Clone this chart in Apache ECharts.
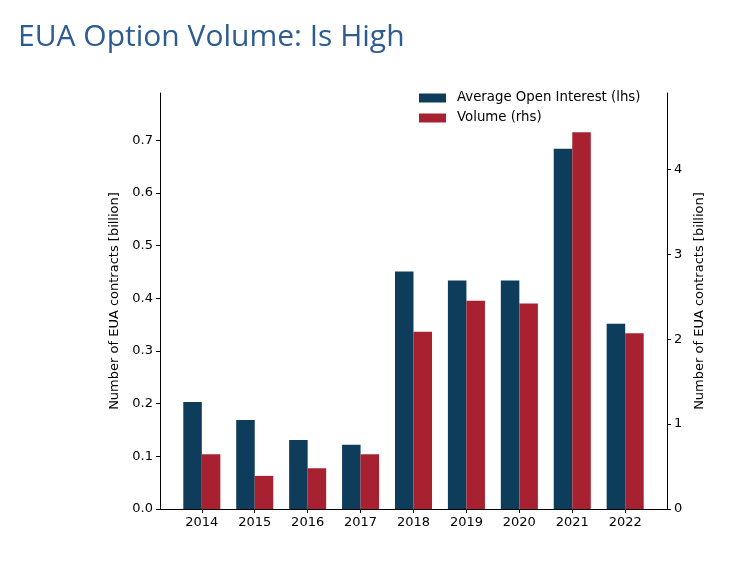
<!DOCTYPE html>
<html>
<head>
<meta charset="utf-8">
<script src="https://cdn.jsdelivr.net/npm/echarts@6/dist/echarts.min.js"></script>
<style>
html,body{margin:0;padding:0;background:#fff;}
#main{width:751px;height:565px;}
</style>
</head>
<body>
<div id="main"></div>
<script>
const years = ['2014','2015','2016','2017','2018','2019','2020','2021','2022'];
const openInterest = [0.203, 0.169, 0.131, 0.122, 0.451, 0.434, 0.434, 0.684, 0.352];
const volume = [0.646, 0.390, 0.480, 0.646, 2.087, 2.453, 2.421, 4.437, 2.071];
const leftTicks = [0, 0.1, 0.2, 0.3, 0.4, 0.5, 0.6, 0.7];
const rightTicks = [0, 1, 2, 3, 4];

const chart = echarts.init(document.getElementById('main'), null, {renderer: 'canvas'});
const idx = years.map((y, i) => i);
const axisColor = '#000';
const tickFont = {color: '#000', fontSize: 13, fontFamily: 'DejaVu Sans'};

chart.setOption({
  animation: false,
  backgroundColor: '#fff',
  title: {
    text: 'EUA Option Volume: Is High',
    left: 13, top: 17,
    textStyle: {color: '#2d5b94', fontSize: 30, fontWeight: 'normal', fontFamily: 'Open Sans'}
  },
  legend: {
    left: 419, top: 91.5, padding: 0,
    orient: 'vertical',
    itemWidth: 27, itemHeight: 9, itemGap: 7,
    icon: 'rect',
    textStyle: {color: '#000', fontSize: 13.3, fontFamily: 'DejaVu Sans', padding: [0, 0, 0, 6]},
    data: ['Average Open Interest (lhs)', 'Volume (rhs)']
  },
  grid: {left: 160, right: 84, top: 93, bottom: 56, containLabel: false},
  xAxis: {
    type: 'value', min: -0.79, max: 8.79,
    splitLine: {show: false},
    axisLine: {show: true, onZero: false, lineStyle: {color: axisColor, width: 1}},
    axisTick: {show: true, customValues: idx, length: 4, lineStyle: {color: axisColor}},
    axisLabel: {customValues: idx, formatter: v => years[Math.round(v)], margin: 7, ...tickFont}
  },
  yAxis: [
    {
      type: 'value', min: 0, max: 0.79, position: 'left',
      name: 'Number of EUA contracts [billion]', nameLocation: 'middle', nameGap: 34,
      nameTextStyle: {color: '#000', fontSize: 13, fontFamily: 'DejaVu Sans'},
      splitLine: {show: false},
      axisLine: {show: true, onZero: false, lineStyle: {color: axisColor, width: 1}},
      axisTick: {show: true, customValues: leftTicks, length: 4, lineStyle: {color: axisColor}},
      axisLabel: {customValues: leftTicks, formatter: v => v.toFixed(1), margin: 7, ...tickFont}
    },
    {
      type: 'value', min: 0, max: 4.9, position: 'right',
      name: 'Number of EUA contracts [billion]', nameLocation: 'middle', nameGap: 22,
      nameTextStyle: {color: '#000', fontSize: 13, fontFamily: 'DejaVu Sans'},
      splitLine: {show: false},
      axisLine: {show: true, onZero: false, lineStyle: {color: axisColor, width: 1}},
      axisTick: {show: true, customValues: rightTicks, length: 4, lineStyle: {color: axisColor}},
      axisLabel: {customValues: rightTicks, formatter: v => String(Math.round(v)), margin: 7, ...tickFont}
    }
  ],
  series: [
    {
      name: 'Average Open Interest (lhs)', type: 'bar', xAxisIndex: 0, yAxisIndex: 0,
      barWidth: '35%', barGap: '0%',
      itemStyle: {color: '#0e3d5c'},
      data: openInterest.map((v, i) => [idx[i], v])
    },
    {
      name: 'Volume (rhs)', type: 'bar', xAxisIndex: 0, yAxisIndex: 1,
      barWidth: '35%', barGap: '0%',
      itemStyle: {color: '#a72130'},
      data: volume.map((v, i) => [idx[i], v])
    }
  ]
});
</script>
</body>
</html>
